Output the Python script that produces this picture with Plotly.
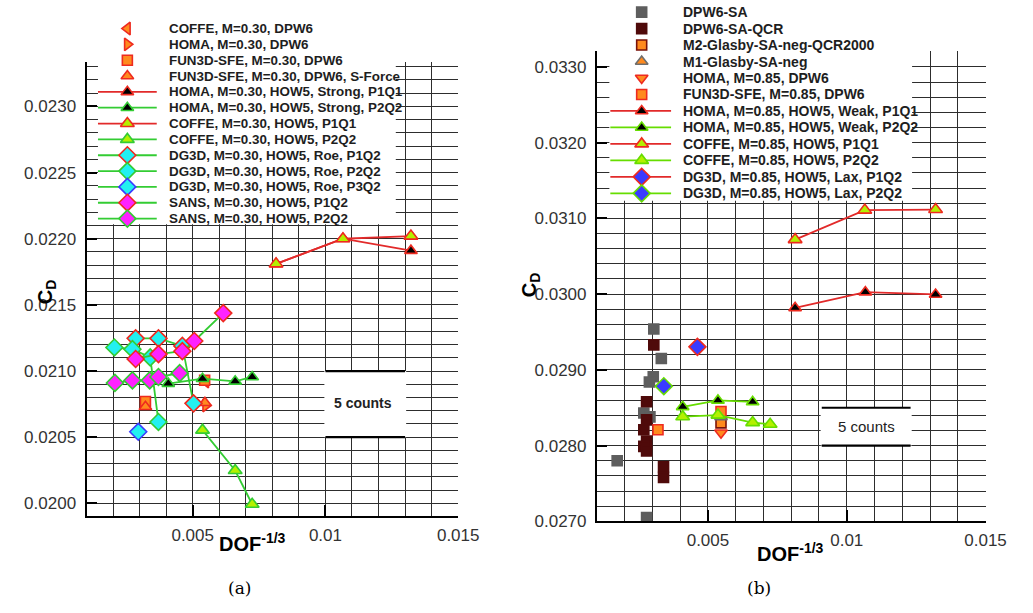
import plotly.graph_objects as go

W, H = 1033, 613

# ---------------- (a)  M = 0.30 ----------------
coffe_dpw6_030_x = [0.00549]
coffe_dpw6_030_y = [0.02092]
homa_dpw6_030_x = [0.00549]
homa_dpw6_030_y = [0.02074]
fun3d_dpw6_030_x = [0.00322, 0.00545]
fun3d_dpw6_030_y = [0.02077, 0.02093]
fun3d_sforce_030_x = [0.00322, 0.00546]
fun3d_sforce_030_y = [0.02073, 0.02076]
homa_p1q1_030_x = [0.00814, 0.01066, 0.01322]
homa_p1q1_030_y = [0.02181, 0.02200, 0.02191]
homa_p2q2_030_x = [0.00408, 0.00537, 0.00660, 0.00724]
homa_p2q2_030_y = [0.020905, 0.020942, 0.020922, 0.020955]
coffe_p1q1_030_x = [0.00814, 0.01066, 0.01322]
coffe_p1q1_030_y = [0.02181, 0.02200, 0.02202]
coffe_p2q2_030_x = [0.00537, 0.00660, 0.00724]
coffe_p2q2_030_y = [0.020553, 0.020248, 0.019993]
dg3d_p1q2_030_x = [0.00285, 0.00371, 0.00461, 0.00503]
dg3d_p1q2_030_y = [0.021247, 0.021247, 0.021190, 0.020756]
dg3d_p2q2_030_x = [0.00205, 0.00273, 0.00340, 0.00371]
dg3d_p2q2_030_y = [0.021178, 0.021165, 0.021103, 0.020615]
dg3d_p3q2_030_x = [0.00295]
dg3d_p3q2_030_y = [0.020541]
sans_p1q2_030_x = [0.00285, 0.00371, 0.00461, 0.00506, 0.00615]
sans_p1q2_030_y = [0.021091, 0.021128, 0.021150, 0.021227, 0.021438]
sans_p2q2_030_x = [0.00207, 0.00273, 0.00338, 0.00371, 0.00451]
sans_p2q2_030_y = [0.020910, 0.020929, 0.020929, 0.020955, 0.020984]

# ---------------- (b)  M = 0.85 ----------------
dpw6_sa_x = [0.00305, 0.00332, 0.00303, 0.00289, 0.00269, 0.00291, 0.00173, 0.00279]
dpw6_sa_y = [0.02954, 0.02915, 0.02891, 0.02884, 0.02843, 0.02838, 0.02780, 0.02705]
dpw6_qcr_x = [0.00305, 0.00279, 0.00279, 0.00269, 0.00279, 0.00269, 0.00279, 0.00340, 0.00340]
dpw6_qcr_y = [0.02933, 0.02858, 0.02834, 0.02821, 0.02806, 0.02799, 0.02793, 0.02772, 0.02758]
m2_glasby_x = [0.00547]
m2_glasby_y = [0.02830]
m1_glasby_x = [0.00547]
m1_glasby_y = [0.02838]
homa_dpw6_085_x = [0.00547]
homa_dpw6_085_y = [0.02817]
fun3d_dpw6_085_x = [0.00320, 0.00547]
fun3d_dpw6_085_y = [0.02821, 0.02845]
homa_p1q1_085_x = [0.00814, 0.01067, 0.01320]
homa_p1q1_085_y = [0.029818, 0.030026, 0.029996]
homa_p2q2_085_x = [0.00409, 0.00536, 0.00661]
homa_p2q2_085_y = [0.028512, 0.028597, 0.028577]
coffe_p1q1_085_x = [0.00814, 0.01065, 0.01320]
coffe_p1q1_085_y = [0.030720, 0.031109, 0.031117]
coffe_p2q2_085_x = [0.00409, 0.00536, 0.00661, 0.00724]
coffe_p2q2_085_y = [0.028382, 0.028403, 0.028304, 0.028282]
dg3d_lax_p1q2_x = [0.00462]
dg3d_lax_p1q2_y = [0.029304]
dg3d_lax_p2q2_x = [0.00341]
dg3d_lax_p2q2_y = [0.028784]

x_tickvals = [0.005, 0.01, 0.015]
x_ticktext = ["0.005", "0.01", "0.015"]

# colours
RED = "#e22a2a"
GREEN_A = "#33cc33"
GREEN_B = "#66dd00"
LIME = "#b4f000"
ORANGE = "#ff8a1e"
EDGE = "#ee2a1f"
CYAN = "#22f0f0"
MAGENTA = "#ff22ff"
BLUE = "#3a3aff"
GRID = "rgb(45,45,45)"
FONT = "Liberation Sans, Arial, sans-serif"

fig = go.Figure()

# plot frames in pixels (left, right, top, bottom)
LBOX = (88.3, 467.7, 63.0, 525.0)
RBOX = (609.3, 1006.0, 51.7, 530.0)


def dom(box):
    x0, x1, t, b = box
    return [x0 / W, x1 / W], [1 - b / H, 1 - t / H]


def scale_bar(xa, ya, x0, x1, y0, y1, pad, text, tx, ty, bold, size):
    # white patch with two black bars and a label
    fig.add_trace(go.Scatter(x=[x0 - pad, x1 + pad, x1 + pad, x0 - pad, x0 - pad],
                             y=[y0, y0, y1, y1, y0], fill="toself", fillcolor="white",
                             mode="lines", line=dict(width=0), xaxis=xa, yaxis=ya,
                             hoverinfo="skip"))
    for yy in (y0, y1):
        fig.add_trace(go.Scatter(x=[x0, x1], y=[yy, yy], mode="lines",
                                 line=dict(color="black", width=2.2), xaxis=xa, yaxis=ya,
                                 hoverinfo="skip"))
    t = f"<b>{text}</b>" if bold else text
    fig.add_annotation(x=tx, y=ty, xref=xa, yref=ya, text=t, showarrow=False,
                       font=dict(family=FONT, size=size, color="#222"))


# the "5 counts" keys sit under the data
scale_bar("x", "y", 0.0100, 0.0130, 0.0205, 0.0210, 0.00004, "5 counts", 0.01143, 0.020762, True, 14)
scale_bar("x2", "y2", 0.0091, 0.0123, 0.0280, 0.0285, 0.00004, "5 counts", 0.0107, 0.02825, False, 15)


def series(x, y, xa, ya, symbol, fill, edge, line=None, size=11, ew=1.6):
    fig.add_trace(go.Scatter(
        x=x, y=y, xaxis=xa, yaxis=ya,
        mode="lines+markers" if line else "markers",
        line=dict(color=line, width=1.8) if line else None,
        marker=dict(symbol=symbol, size=size, color=fill, line=dict(color=edge, width=ew)),
        hoverinfo="skip"))


# entries: (text, x, y, symbol, fill, edge, line, size)
left_entries = [
    ("COFFE, M=0.30, DPW6", coffe_dpw6_030_x, coffe_dpw6_030_y, "triangle-left", ORANGE, EDGE, None, 11),
    ("HOMA, M=0.30, DPW6", homa_dpw6_030_x, homa_dpw6_030_y, "triangle-right", ORANGE, EDGE, None, 11),
    ("FUN3D-SFE, M=0.30, DPW6", fun3d_dpw6_030_x, fun3d_dpw6_030_y, "square", ORANGE, EDGE, None, 10),
    ("FUN3D-SFE, M=0.30, DPW6, S-Force", fun3d_sforce_030_x, fun3d_sforce_030_y, "triangle-up", ORANGE, EDGE, None, 11),
    ("HOMA, M=0.30, HOW5, Strong, P1Q1", homa_p1q1_030_x, homa_p1q1_030_y, "triangle-up", "black", EDGE, RED, 11),
    ("HOMA, M=0.30, HOW5, Strong, P2Q2", homa_p2q2_030_x, homa_p2q2_030_y, "triangle-up", "black", GREEN_A, GREEN_A, 11),
    ("COFFE, M=0.30, HOW5, P1Q1", coffe_p1q1_030_x, coffe_p1q1_030_y, "triangle-up", LIME, EDGE, RED, 12),
    ("COFFE, M=0.30, HOW5, P2Q2", coffe_p2q2_030_x, coffe_p2q2_030_y, "triangle-up", LIME, GREEN_A, GREEN_A, 12),
    ("DG3D, M=0.30, HOW5, Roe, P1Q2", dg3d_p1q2_030_x, dg3d_p1q2_030_y, "diamond", CYAN, EDGE, GREEN_A, 13),
    ("DG3D, M=0.30, HOW5, Roe, P2Q2", dg3d_p2q2_030_x, dg3d_p2q2_030_y, "diamond", CYAN, GREEN_A, GREEN_A, 13),
    ("DG3D, M=0.30, HOW5, Roe, P3Q2", dg3d_p3q2_030_x, dg3d_p3q2_030_y, "diamond", CYAN, BLUE, GREEN_A, 13),
    ("SANS, M=0.30, HOW5, P1Q2", sans_p1q2_030_x, sans_p1q2_030_y, "diamond", MAGENTA, EDGE, GREEN_A, 13),
    ("SANS, M=0.30, HOW5, P2Q2", sans_p2q2_030_x, sans_p2q2_030_y, "diamond", MAGENTA, GREEN_A, GREEN_A, 13),
]

right_entries = [
    ("DPW6-SA", dpw6_sa_x, dpw6_sa_y, "square", "#5e5e5e", "#5e5e5e", None, 10),
    ("DPW6-SA-QCR", dpw6_qcr_x, dpw6_qcr_y, "square", "#4f0a0a", "#4f0a0a", None, 10),
    ("M2-Glasby-SA-neg-QCR2000", m2_glasby_x, m2_glasby_y, "square", ORANGE, "#7a1208", None, 10),
    ("M1-Glasby-SA-neg", m1_glasby_x, m1_glasby_y, "triangle-up", ORANGE, "#6e6e6e", None, 11),
    ("HOMA, M=0.85, DPW6", homa_dpw6_085_x, homa_dpw6_085_y, "triangle-down", ORANGE, EDGE, None, 11),
    ("FUN3D-SFE, M=0.85, DPW6", fun3d_dpw6_085_x, fun3d_dpw6_085_y, "square", ORANGE, EDGE, None, 10),
    ("HOMA, M=0.85, HOW5, Weak, P1Q1", homa_p1q1_085_x, homa_p1q1_085_y, "triangle-up", "black", EDGE, RED, 11),
    ("HOMA, M=0.85, HOW5, Weak, P2Q2", homa_p2q2_085_x, homa_p2q2_085_y, "triangle-up", "black", GREEN_B, GREEN_B, 11),
    ("COFFE, M=0.85, HOW5, P1Q1", coffe_p1q1_085_x, coffe_p1q1_085_y, "triangle-up", LIME, EDGE, RED, 12),
    ("COFFE, M=0.85, HOW5, P2Q2", coffe_p2q2_085_x, coffe_p2q2_085_y, "triangle-up", LIME, GREEN_B, GREEN_B, 12),
    ("DG3D, M=0.85, HOW5, Lax, P1Q2", dg3d_lax_p1q2_x, dg3d_lax_p1q2_y, "diamond", BLUE, EDGE, RED, 13),
    ("DG3D, M=0.85, HOW5, Lax, P2Q2", dg3d_lax_p2q2_x, dg3d_lax_p2q2_y, "diamond", BLUE, GREEN_B, GREEN_B, 13),
]

for name, x, y, sym, fill, edge, line, size in left_entries:
    series(x, y, "x", "y", sym, fill, edge, line, size)
for name, x, y, sym, fill, edge, line, size in right_entries:
    series(x, y, "x2", "y2", sym, fill, edge, line, size)


# ---- keys, drawn on a pixel-space overlay ----
def key(entries, box, mx, lx0, lx1, tx, row0, dy, fsize):
    bx0, bx1, by0, by1 = box
    fig.add_trace(go.Scatter(x=[bx0, bx1, bx1, bx0, bx0], y=[by0, by0, by1, by1, by0],
                             fill="toself", fillcolor="white", mode="lines",
                             line=dict(width=0), xaxis="x3", yaxis="y3", hoverinfo="skip"))
    for i, (name, _x, _y, sym, fill, edge, line, size) in enumerate(entries):
        ry = row0 + i * dy
        if line:
            fig.add_trace(go.Scatter(x=[lx0, lx1], y=[ry, ry], mode="lines",
                                     line=dict(color=line, width=1.8),
                                     xaxis="x3", yaxis="y3", hoverinfo="skip"))
        fig.add_trace(go.Scatter(x=[mx], y=[ry], mode="markers",
                                 marker=dict(symbol=sym, size=size, color=fill,
                                             line=dict(color=edge, width=1.6)),
                                 xaxis="x3", yaxis="y3", hoverinfo="skip"))
        fig.add_annotation(x=tx, y=ry, xref="x3", yref="y3", text=f"<b>{name}</b>",
                           showarrow=False, xanchor="left", yanchor="middle",
                           font=dict(family=FONT, size=fsize, color="#1e1e1e"))


key(left_entries, (100, 404, 0, 228), 130, 100, 160, 170, 29, 16.1, 13.4)
key(right_entries, (622, 931, 0, 204), 655, 623, 685, 695, 12.3, 16.75, 14)

# axis titles and captions
texts = [
    ("<b>C<sub>D</sub></b>", 47, 297, -90, 20, FONT),
    ("<b>C<sub>D</sub></b>", 541, 290, -90, 20, FONT),
    ("<b>DOF<sup>-1/3</sup></b>", 258, 551, 0, 20, FONT),
    ("<b>DOF<sup>-1/3</sup></b>", 807, 562, 0, 20, FONT),
    ("(a)", 244, 598, 0, 17, "DejaVu Serif, serif"),
    ("(b)", 775, 598, 0, 17, "DejaVu Serif, serif"),
]
for t, x, y, ang, s, fam in texts:
    fig.add_annotation(x=x, y=y, xref="x3", yref="y3", text=t, showarrow=False,
                       textangle=ang, font=dict(family=fam, size=s, color="black"))

tickfont = dict(family=FONT, size=17, color="#333")
lxd, lyd = dom(LBOX)
rxd, ryd = dom(RBOX)


def xaxis(domain, anchor):
    return dict(domain=domain, anchor=anchor, range=[0.001, 0.015],
                tickmode="array", tickvals=x_tickvals, ticktext=x_ticktext,
                ticks="inside", ticklen=11, tickwidth=2, tickcolor="black",
                showline=True, linecolor="black", linewidth=2,
                showgrid=True, gridcolor=GRID, gridwidth=1.2, zeroline=False,
                minor=dict(dtick=0.001, tick0=0, showgrid=True, gridcolor=GRID, gridwidth=1.2),
                tickfont=tickfont, ticklabelstandoff=2)


def yaxis(domain, anchor, rng, tick0, dtick, mdtick):
    return dict(domain=domain, anchor=anchor, range=rng, tick0=tick0, dtick=dtick,
                tickformat=".4f", ticks="inside", ticklen=10, tickwidth=2,
                tickcolor="black", showline=True, linecolor="black", linewidth=2,
                showgrid=True, gridcolor=GRID, gridwidth=1.2, zeroline=False,
                minor=dict(dtick=mdtick, tick0=tick0, showgrid=True, gridcolor=GRID, gridwidth=1.2),
                tickfont=tickfont, ticklabelstandoff=5)


fig.update_layout(
    width=W, height=H, margin=dict(l=0, r=0, t=0, b=0),
    paper_bgcolor="white", plot_bgcolor="rgba(0,0,0,0)", showlegend=False,
    xaxis=xaxis(lxd, "y"),
    yaxis=yaxis(lyd, "x", [0.019901, 0.023336], 0.02, 0.0005, 0.0001),
    xaxis2=xaxis(rxd, "y2"),
    yaxis2=yaxis(ryd, "x2", [0.0270, 0.033212], 0.027, 0.001, 0.0002),
    xaxis3=dict(domain=[0, 1], anchor="y3", range=[0, W], visible=False, fixedrange=True),
    yaxis3=dict(domain=[0, 1], anchor="x3", range=[H, 0], visible=False, fixedrange=True),
)

fig.write_html("out.html")
